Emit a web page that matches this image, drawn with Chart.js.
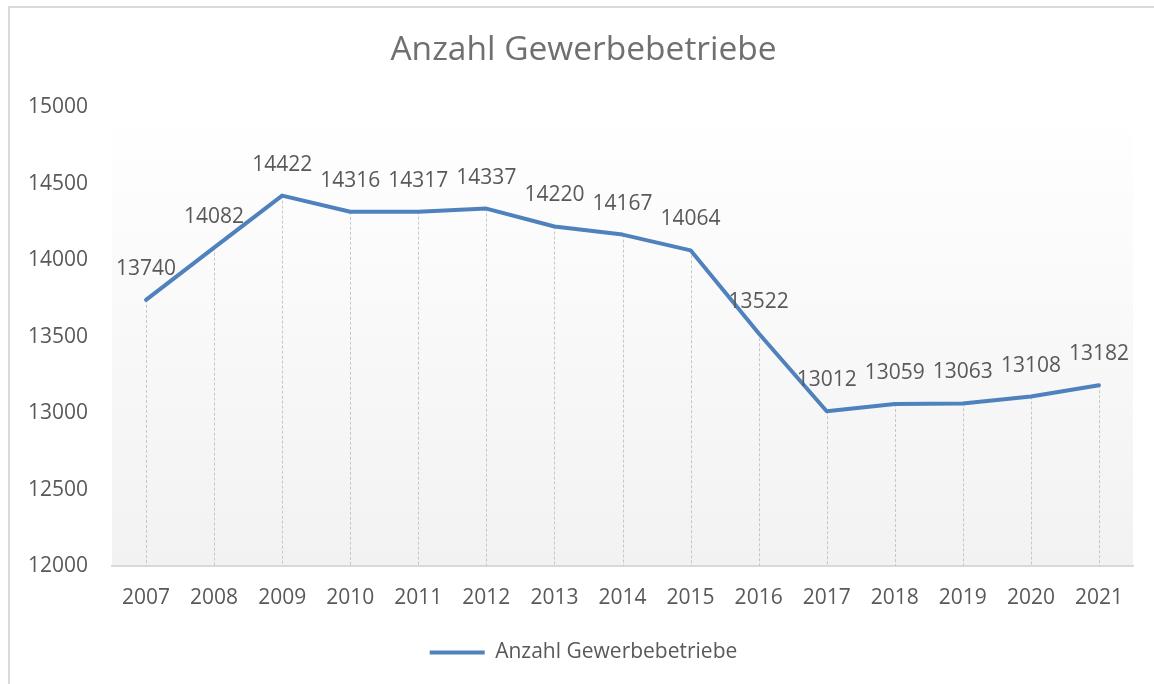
<!DOCTYPE html>
<html>
<head>
<meta charset="utf-8">
<script src="https://cdn.jsdelivr.net/npm/chart.js@4.4.0/dist/chart.umd.min.js"></script>
<style>
  html, body { margin: 0; padding: 0; background: #ffffff; overflow: hidden; }
  #frame { position: absolute; left: 8px; top: 6px; width: 1200px; height: 720px; border: 2px solid #d9d9d9; box-sizing: border-box; }
  #wrap { position: absolute; left: 0; top: 0; width: 1154px; height: 684px; }
</style>
</head>
<body>
<div id="frame"></div>
<div id="wrap"><canvas id="c" width="1154" height="684"></canvas></div>
<script>
const categories = ['2007','2008','2009','2010','2011','2012','2013','2014','2015','2016','2017','2018','2019','2020','2021'];
const seriesValues = [13740,14082,14422,14316,14317,14337,14220,14167,14064,13522,13012,13059,13063,13108,13182];
const yTicks = [12000,12500,13000,13500,14000,14500,15000];
const seriesName = 'Anzahl Gewerbebetriebe';
const chartTitle = 'Anzahl Gewerbebetriebe';

const FONT = "'Open Sans', 'DejaVu Sans', sans-serif";
const TEXT = '#595959';
const BLUE = '#4f81bd';

const bgPlugin = {
  id: 'bg',
  beforeDraw(chart) {
    const {ctx, chartArea: a} = chart;
    const g = ctx.createLinearGradient(0, a.top, 0, a.bottom);
    g.addColorStop(0, '#ffffff');
    g.addColorStop(1, '#f2f2f2');
    ctx.save();
    ctx.fillStyle = g;
    ctx.fillRect(a.left, a.top, a.right - a.left, a.bottom - a.top);
    ctx.restore();
  }
};

const dropLines = {
  id: 'dropLines',
  beforeDatasetsDraw(chart) {
    const {ctx, chartArea: a} = chart;
    const meta = chart.getDatasetMeta(0);
    ctx.save();
    ctx.strokeStyle = '#c6c6c6';
    ctx.lineWidth = 1;
    ctx.setLineDash([3, 2]);
    meta.data.forEach(p => {
      const x = Math.round(p.x) + 0.5;
      ctx.beginPath();
      ctx.moveTo(x, p.y);
      ctx.lineTo(x, a.bottom);
      ctx.stroke();
    });
    ctx.restore();
  }
};

const dataLabels = {
  id: 'dataLabels',
  afterDatasetsDraw(chart) {
    const {ctx} = chart;
    const meta = chart.getDatasetMeta(0);
    const vals = chart.data.datasets[0].data;
    ctx.save();
    ctx.font = "21px " + FONT;
    ctx.fillStyle = TEXT;
    ctx.textAlign = 'center';
    ctx.textBaseline = 'middle';
    meta.data.forEach((p, i) => {
      ctx.fillText(String(vals[i]), p.x, p.y - 31);
    });
    ctx.restore();
  }
};

new Chart(document.getElementById('c'), {
  type: 'line',
  data: {
    labels: categories,
    datasets: [{
      label: seriesName,
      data: seriesValues,
      borderColor: BLUE,
      backgroundColor: BLUE,
      borderWidth: 4,
      borderCapStyle: 'round',
      borderJoinStyle: 'round',
      pointRadius: 0,
      pointHoverRadius: 0,
      tension: 0,
      fill: false,
      yAxisID: 'y'
    }]
  },
  options: {
    responsive: false,
    animation: false,
    devicePixelRatio: 1,
    layout: { padding: { left: 13, right: 0, top: 11, bottom: 11 } },
    plugins: {
      tooltip: { enabled: false },
      title: {
        display: true,
        text: chartTitle,
        color: '#707070',
        font: { family: FONT, size: 33.5, weight: 'normal' },
        padding: { top: 19, bottom: 37 }
      },
      legend: {
        display: true,
        position: 'bottom',
        labels: {
          color: TEXT,
          font: { family: FONT, size: 21 },
          usePointStyle: true,
          pointStyle: 'line',
          pointStyleWidth: 55,
          padding: 10
        }
      }
    },
    scales: {
      x: {
        offset: true,
        grid: { display: false, drawTicks: false },
        border: { display: true, color: '#d9d9d9', width: 2 },
        ticks: { color: TEXT, font: { family: FONT, size: 21 }, padding: 19, maxRotation: 0, autoSkip: false },
        afterFit(s) { s.height = 66; }
      },
      y: {
        position: 'left',
        min: yTicks[0],
        max: yTicks[yTicks.length - 1],
        grid: { display: false, drawTicks: false },
        border: { display: false },
        afterBuildTicks(s) { s.ticks = yTicks.map(v => ({ value: v })); },
        ticks: { color: TEXT, font: { family: FONT, size: 21 }, padding: 24, callback: v => String(v) },
        afterFit(s) { s.width = 99; }
      },
      yRight: {
        position: 'right',
        display: true,
        grid: { display: false, drawTicks: false },
        border: { display: false },
        ticks: { display: false },
        afterFit(s) { s.width = 21; }
      }
    }
  },
  plugins: [bgPlugin, dropLines, dataLabels]
});
</script>
</body>
</html>
